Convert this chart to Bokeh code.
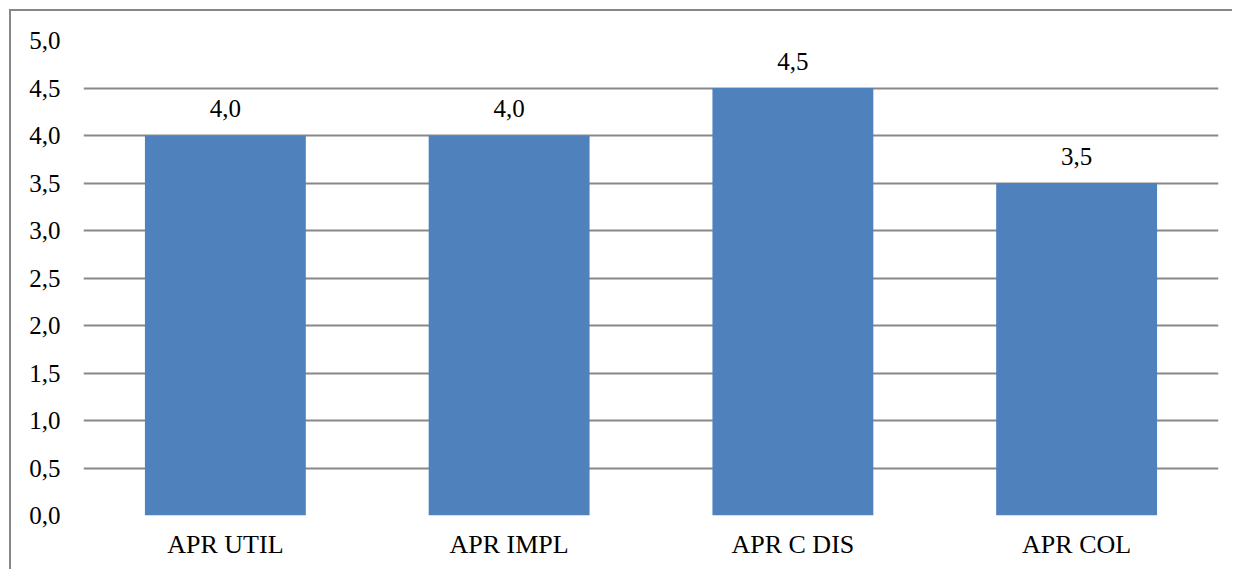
from bokeh.plotting import figure
from bokeh.models import ColumnDataSource, FixedTicker, Range1d
from bokeh.core.properties import value
from bokeh.embed import file_html
from bokeh.resources import INLINE

categories = ["APR UTIL", "APR IMPL", "APR C DIS", "APR COL"]
values = [4.0, 4.0, 4.5, 3.5]
y_ticks = [0.0, 0.5, 1.0, 1.5, 2.0, 2.5, 3.0, 3.5, 4.0, 4.5, 5.0]
y_tick_labels = ["0,0", "0,5", "1,0", "1,5", "2,0", "2,5", "3,0", "3,5", "4,0", "4,5", "5,0"]

FONT = "Liberation Serif"
GRID = "#888888"
BAR = "#4F81BD"

src = ColumnDataSource(dict(
    cat=categories,
    val=values,
    lab=[f"{v:.1f}".replace(".", ",") for v in values],
))

p = figure(
    x_range=categories,
    y_range=Range1d(0, 5),
    width=1223, height=560,
    output_backend="svg",
    toolbar_location=None,
    min_border_left=72, min_border_right=16,
    min_border_top=29, min_border_bottom=56,
)
p.styles = {
    "margin-left": "9px", "margin-top": "9px",
    "border-left": "2px solid #878787", "border-top": "2px solid #878787",
}
p.outline_line_color = None
p.background_fill_color = "white"
p.border_fill_color = "white"

p.vbar(x="cat", top="val", width=0.567, source=src, fill_color=BAR, line_color=None)

p.text(x="cat", y="val", text="lab", source=src, text_align="center",
       text_baseline="alphabetic", y_offset=-27, text_font=value(FONT),
       text_font_size="25px", text_color="black")

p.xgrid.grid_line_color = None
p.ygrid.grid_line_color = GRID
p.ygrid.grid_line_width = 2
p.yaxis.ticker = FixedTicker(ticks=y_ticks)
p.yaxis.major_label_overrides = {t: l for t, l in zip(y_ticks, y_tick_labels)}
p.ygrid.ticker = FixedTicker(ticks=y_ticks)

for ax in (p.xaxis, p.yaxis):
    ax.axis_line_color = None
    ax.major_tick_line_color = None
    ax.minor_tick_line_color = None
    ax.major_label_text_font = FONT
    ax.major_label_text_color = "black"
p.yaxis.major_label_text_font_size = "25px"
p.xaxis.major_label_text_font_size = "26px"
p.yaxis.major_label_standoff = 17
p.xaxis.major_label_standoff = 8

open("out.html", "w").write(file_html(p, INLINE))
